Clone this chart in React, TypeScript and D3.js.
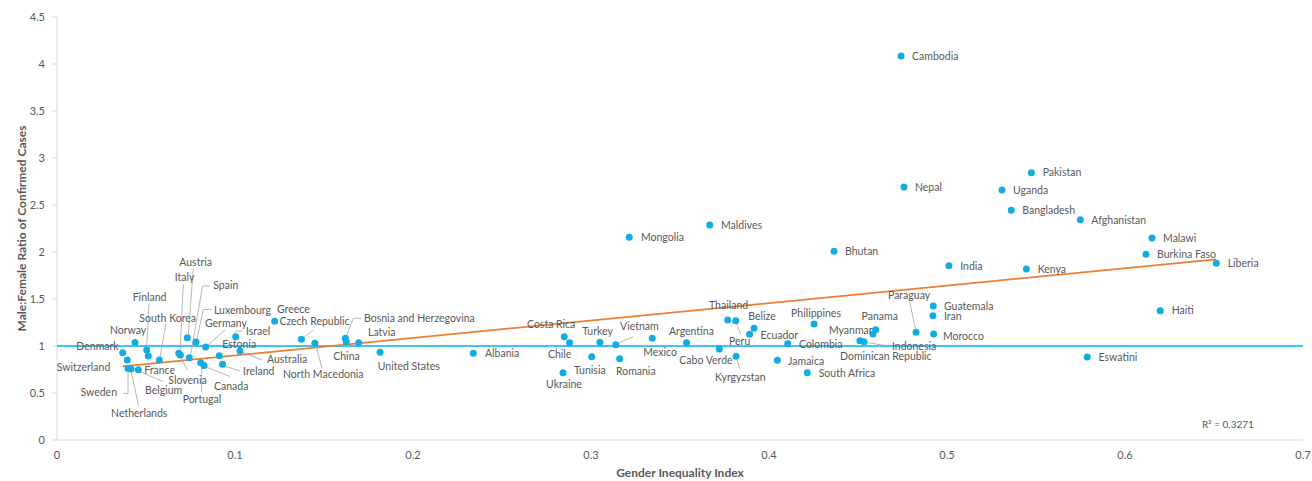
import React from "react";
import * as d3 from "d3";

// ---- data ----
const countries = [
  "Switzerland","Denmark","Sweden","Netherlands","Norway","Belgium","Finland","France","South Korea","Italy",
  "Slovenia","Austria","Spain","Luxembourg","Portugal","Canada","Germany","Estonia","Ireland","Israel",
  "Australia","Greece","Czech Republic","North Macedonia","Bosnia and Herzegovina","China","Latvia","United States","Albania","Ukraine",
  "Costa Rica","Chile","Tunisia","Turkey","Vietnam","Romania","Mongolia","Mexico","Argentina","Maldives",
  "Cabo Verde","Thailand","Peru","Kyrgyzstan","Ecuador","Belize","Jamaica","Colombia","South Africa","Philippines",
  "Bhutan","Indonesia","Dominican Republic","Myanmar","Panama","Cambodia","Nepal","Paraguay","Guatemala","Iran",
  "Morocco","India","Uganda","Bangladesh","Kenya","Pakistan","Afghanistan","Eswatini","Burkina Faso","Malawi",
  "Haiti","Liberia",
];
const giiValues = [
  0.0395,0.0369,0.0399,0.0416,0.0438,0.0457,0.0504,0.0513,0.0575,0.0684,
  0.0693,0.0732,0.0743,0.0781,0.0807,0.0826,0.0835,0.0912,0.093,0.1004,
  0.1028,0.1223,0.1373,0.1449,0.162,0.1625,0.1695,0.1815,0.2339,0.2843,
  0.285,0.288,0.3004,0.305,0.3139,0.3161,0.3215,0.3344,0.3537,0.3667,
  0.3721,0.3768,0.3813,0.3815,0.3891,0.3916,0.4047,0.4105,0.4215,0.4253,
  0.4365,0.4511,0.4534,0.4584,0.4599,0.4742,0.4758,0.4826,0.4923,0.4921,
  0.4925,0.5011,0.5309,0.5361,0.5446,0.5474,0.5749,0.5788,0.6118,0.6152,
  0.6198,0.6513,
];
const ratioValues = [
  0.851,0.929,0.761,0.755,1.037,0.748,0.957,0.894,0.851,0.922,
  0.904,1.088,0.876,1.043,0.822,0.793,0.989,0.896,0.806,1.099,
  0.947,1.263,1.071,1.029,1.082,1.046,1.035,0.933,0.922,0.716,
  1.099,1.035,0.886,1.039,1.014,0.865,2.156,1.082,1.034,2.287,
  0.968,1.277,1.269,0.89,1.124,1.188,0.848,1.024,0.716,1.234,
  2.007,1.056,1.046,1.128,1.174,4.085,2.691,1.146,1.426,1.322,
  1.128,1.854,2.66,2.444,1.819,2.844,2.344,0.883,1.976,2.149,
  1.376,1.88,
];
const xTicks = [0, 0.1, 0.2, 0.3, 0.4, 0.5, 0.6, 0.7];
const yTicks = [0, 0.5, 1, 1.5, 2, 2.5, 3, 3.5, 4, 4.5];
const referenceRatio = 1;
const rSquaredText = "R² = 0.3271";
const xTitle = "Gender Inequality Index";
const yTitle = "Male:Female Ratio of Confirmed Cases";

// ---- label layout (pixel offsets from the point) ----
type Lay = { dx: number; dy: number; anchor?: string; leader?: number[][] };
const labelLayout: Record<string, Lay> = {
  "Switzerland": { dx: -17, dy: 7, anchor: "end" },
  "Denmark": { dx: -4, dy: -6, anchor: "end" },
  "Sweden": { dx: -11, dy: 24, anchor: "end", leader: [[-5, 25], [0, 25], [0, 3]] },
  "Netherlands": { dx: -20, dy: 44.5, leader: [[7.6, 37], [0, 2]] },
  "Norway": { dx: -25, dy: -12 },
  "Belgium": { dx: 6.7, dy: 21, leader: [[2, 2], [25, 12]] },
  "Finland": { dx: -14, dy: -53, leader: [[2.3, -46], [0, -3]] },
  "France": { dx: -4, dy: 14 },
  "South Korea": { dx: -20, dy: -42, leader: [[6.4, -36], [0.7, -3]] },
  "Italy": { dx: -4, dy: -76, leader: [[4.6, -69], [1.3, -3.3]] },
  "Slovenia": { dx: -12, dy: 25, leader: [[0.4, 2.5], [7, 15]] },
  "Austria": { dx: -8, dy: -75, leader: [[6, -69], [1, -2.7]] },
  "Spain": { dx: 24, dy: -72, leader: [[1.4, -2.7], [13.4, -71.7], [20.7, -71.7]] },
  "Luxembourg": { dx: 18, dy: -32, leader: [[0.7, -2], [7.3, -32.5], [15.7, -32.5]] },
  "Portugal": { dx: -18, dy: 37, leader: [[1, 2.3], [1, 29.3]] },
  "Canada": { dx: 10, dy: 20.5, leader: [[2, 1.5], [26, 11]] },
  "Germany": { dx: -0.7, dy: -24, leader: [[1.8, -1.5], [19.3, -17]] },
  "Estonia": { dx: 3, dy: -11 },
  "Ireland": { dx: 20.5, dy: 7, leader: [[2, 1.8], [17.5, 6.8]] },
  "Israel": { dx: 10.3, dy: -5.7, leader: [[0, -3.5], [0, -5.7], [7, -5.7]] },
  "Australia": { dx: 27, dy: 8, leader: [[2, 1], [22, 9]] },
  "Greece": { dx: 2.3, dy: -12.3 },
  "Czech Republic": { dx: -22, dy: -18, leader: [[1.7, -1.3], [12, -9.3]] },
  "North Macedonia": { dx: -32, dy: 31, leader: [[1, 2.2], [7, 24.7]] },
  "Bosnia and Herzegovina": { dx: 18.7, dy: -20, leader: [[1.2, -2.3], [8, -20], [15.7, -20]] },
  "China": { dx: -13, dy: 14.3 },
  "Latvia": { dx: 9.3, dy: -10.7 },
  "United States": { dx: -2.3, dy: 14.4 },
  "Albania": { dx: 11.7, dy: 0 },
  "Ukraine": { dx: -17, dy: 11.3 },
  "Costa Rica": { dx: -37.3, dy: -12.7 },
  "Chile": { dx: -21.7, dy: 11.3 },
  "Tunisia": { dx: -17.7, dy: 14 },
  "Turkey": { dx: -17.7, dy: -10.6 },
  "Vietnam": { dx: 4.3, dy: -18, leader: [[1.3, -1.2], [17.6, -8]] },
  "Romania": { dx: -3.7, dy: 13 },
  "Mongolia": { dx: 11.7, dy: 0 },
  "Mexico": { dx: -9, dy: 14.4 },
  "Argentina": { dx: -17.7, dy: -11.8 },
  "Maldives": { dx: 11.3, dy: 0 },
  "Cabo Verde": { dx: -40, dy: 11 },
  "Thailand": { dx: -18.7, dy: -14.3 },
  "Peru": { dx: -6.7, dy: 21, leader: [[0.8, 2.3], [4.8, 13.3]] },
  "Kyrgyzstan": { dx: -21, dy: 21, leader: [[0.7, 2.2], [3.5, 12.2]] },
  "Ecuador": { dx: 11, dy: 1 },
  "Belize": { dx: -5.7, dy: -11.6 },
  "Jamaica": { dx: 10.7, dy: 0.7 },
  "Colombia": { dx: 11.3, dy: 0.3 },
  "South Africa": { dx: 11.4, dy: 0.6 },
  "Philippines": { dx: -23, dy: -10.7 },
  "Bhutan": { dx: 11, dy: 0 },
  "Indonesia": { dx: 32, dy: 6, leader: [[2, 1], [30, 5.5]] },
  "Dominican Republic": { dx: -24, dy: 15 },
  "Myanmar": { dx: -44, dy: -4 },
  "Panama": { dx: -14, dy: -13 },
  "Cambodia": { dx: 11, dy: 0 },
  "Nepal": { dx: 11, dy: 0 },
  "Paraguay": { dx: -28, dy: -37.3, leader: [[-0.5, -2.8], [-6.5, -31.8]] },
  "Guatemala": { dx: 10.7, dy: 0 },
  "Iran": { dx: 11, dy: 0.3 },
  "Morocco": { dx: 9.3, dy: 2 },
  "India": { dx: 11.3, dy: 0.3 },
  "Uganda": { dx: 11, dy: 0 },
  "Bangladesh": { dx: 11, dy: 0 },
  "Kenya": { dx: 11.3, dy: 0.7 },
  "Pakistan": { dx: 11.3, dy: 0 },
  "Afghanistan": { dx: 11, dy: 0.6 },
  "Eswatini": { dx: 11.3, dy: 0.7 },
  "Burkina Faso": { dx: 11, dy: 0 },
  "Malawi": { dx: 11, dy: 0 },
  "Haiti": { dx: 11.4, dy: 0 },
  "Liberia": { dx: 11.4, dy: 0 },
};

const W = 1312, H = 481;
const FONT = "Lato, 'Open Sans', sans-serif";
const TEXT = "#595959";
const DOT = "#12ACE3";

export default function App() {
  const x = d3.scaleLinear().domain([0, 0.7]).range([57, 1303]);
  const y = d3.scaleLinear().domain([0, 4.5]).range([440, 17]);
  const pts = countries.map((c, i) => ({ c, gx: giiValues[i], r: ratioValues[i] }));

  // least-squares linear trendline
  const mx = d3.mean(giiValues)!;
  const my = d3.mean(ratioValues)!;
  let sxy = 0, sxx = 0;
  giiValues.forEach((g, i) => { sxy += (g - mx) * (ratioValues[i] - my); sxx += (g - mx) ** 2; });
  const slope = sxy / sxx;
  const icpt = my - slope * mx;
  const [gMin, gMax] = d3.extent(giiValues) as [number, number];
  const trend = d3.line<number>().x((g) => x(g)).y((g) => y(icpt + slope * g))([gMin, gMax]);

  return (
    <div style={{ position: "absolute", left: 0, top: 0, width: W, height: H, overflow: "hidden", background: "#fff" }}>
      <svg width={W} height={H} style={{ display: "block" }} fontFamily={FONT}>
        {/* axes */}
        <line x1={x(0)} x2={x(0)} y1={y(4.5)} y2={y(0)} stroke="#D9D9D9" strokeWidth={1} />
        <line x1={x(0)} x2={x(0.7)} y1={y(0)} y2={y(0)} stroke="#D9D9D9" strokeWidth={1} />
        {yTicks.map((t) => (
          <g key={"y" + t}>
            <line x1={x(0) - 5} x2={x(0)} y1={y(t)} y2={y(t)} stroke="#D9D9D9" />
            <text x={45} y={y(t)} dy="0.35em" textAnchor="end" fontSize={11} fill={TEXT}>{String(t)}</text>
          </g>
        ))}
        {xTicks.map((t) => (
          <text key={"x" + t} x={x(t)} y={455} dy="0.35em" textAnchor="middle" fontSize={11} fill={TEXT}>{String(t)}</text>
        ))}
        <text transform={`translate(22,${(y(0) + y(4.5)) / 2}) rotate(-90)`} textAnchor="middle" dy="0.35em" fontSize={12} fontWeight="bold" fill={TEXT}>{yTitle}</text>
        <text x={(x(0) + x(0.7)) / 2} y={477} textAnchor="middle" fontSize={12} fontWeight="bold" fill={TEXT}>{xTitle}</text>

        {/* reference line and trend */}
        <line x1={x(0)} x2={x(0.7)} y1={y(referenceRatio)} y2={y(referenceRatio)} stroke="#00B0F0" strokeWidth={1.5} />
        <path d={trend || ""} stroke="#ED7D31" strokeWidth={1.75} fill="none" />

        {/* leader lines */}
        {pts.map((p) => {
          const L = labelLayout[p.c];
          if (!L || !L.leader) return null;
          const px = x(p.gx), py = y(p.r);
          const d = d3.line()(L.leader.map(([a, b]) => [px + a, py + b] as [number, number]));
          return <path key={"l" + p.c} d={d || ""} stroke="#A6A6A6" strokeWidth={0.8} fill="none" />;
        })}

        {/* dots */}
        {pts.map((p) => (
          <circle key={"c" + p.c} cx={x(p.gx)} cy={y(p.r)} r={3.5} fill={DOT} />
        ))}

        {/* labels */}
        {pts.map((p) => {
          const L = labelLayout[p.c] || { dx: 11, dy: 0 };
          return (
            <text key={"t" + p.c} x={x(p.gx) + L.dx} y={y(p.r) + L.dy} dy="0.35em" textAnchor={L.anchor || "start"} fontSize={10.5} fill={TEXT}>{p.c}</text>
          );
        })}

        <text x={1202} y={424} dy="0.35em" fontSize={10} fill={TEXT}>{rSquaredText}</text>
      </svg>
    </div>
  );
}
